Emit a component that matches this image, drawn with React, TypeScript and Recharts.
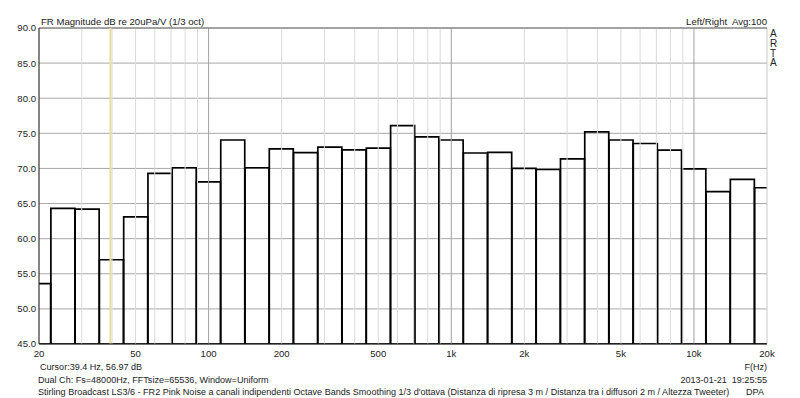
import React from 'react';
import { BarChart, Bar, XAxis, YAxis, CartesianGrid, ReferenceLine } from 'recharts';

// 1/3-octave band centre frequencies (Hz, exact base-10 centres) and labels
const bandLabels = ['20','25','31.5','40','50','63','80','100','125','160','200','250','315','400','500','630','800','1k','1.25k','1.6k','2k','2.5k','3.15k','4k','5k','6.3k','8k','10k','12.5k','16k','20k'];
const bandCenterHz = [19.953, 25.119, 31.623, 39.811, 50.119, 63.096, 79.433, 100, 125.89, 158.49, 199.53, 251.19, 316.23, 398.11, 501.19, 630.96, 794.33, 1000, 1258.9, 1584.9, 1995.3, 2511.9, 3162.3, 3981.1, 5011.9, 6309.6, 7943.3, 10000, 12589, 15849, 19953];
// Magnitude per band (dB)
const levelsDb = [53.6, 64.3, 64.2, 57.0, 63.1, 69.3, 70.1, 68.1, 74.05, 70.1, 72.8, 72.25, 73.05, 72.65, 72.9, 76.1, 74.5, 74.05, 72.2, 72.3, 70.0, 69.85, 71.35, 75.2, 74.05, 73.55, 72.6, 69.95, 66.7, 68.45, 67.25];

const xTicks = [20, 50, 100, 200, 500, 1000, 2000, 5000, 10000, 20000];
const minorGridHz = [30, 40, 50, 60, 70, 80, 90, 200, 300, 400, 500, 600, 700, 800, 900, 2000, 3000, 4000, 5000, 6000, 7000, 8000, 9000];
const majorGridHz = [100, 1000, 10000];
const yTicks = [45, 50, 55, 60, 65, 70, 75, 80, 85, 90];
const cursorHz = 39.4;

const data = bandCenterHz.map((f, i) => ({ f, band: bandLabels[i], db: levelsDb[i] }));

const FONT = '"Liberation Sans", Arial, sans-serif';
const fmtHz = (v: number) => (v >= 1000 ? `${v / 1000}k` : `${v}`);

export default function App() {
  const txt = { fontFamily: FONT, fontSize: 9.6, fill: '#222' } as const;
  const small = { fontFamily: FONT, fontSize: 9.05, fill: '#222' } as const;
  return (
    <div style={{ position: 'absolute', left: 0, top: 0, width: 800, height: 398, background: '#fff' }}>
      <BarChart
        width={800}
        height={398}
        data={data}
        margin={{ top: 28, right: 33, bottom: 34, left: 0 }}
        barCategoryGap={0}
        barGap={0}
      >
        <CartesianGrid vertical={false} stroke="#a8a8a8" strokeWidth={1} />
        {minorGridHz.map((hz) => (
          <ReferenceLine key={`m${hz}`} x={hz} stroke="#dadada" strokeWidth={1} />
        ))}
        {majorGridHz.map((hz) => (
          <ReferenceLine key={`M${hz}`} x={hz} stroke="#a0a0a0" strokeWidth={1} />
        ))}
        <ReferenceLine x={20000} stroke="#c8c8c8" strokeWidth={1} />
        <ReferenceLine y={90} stroke="#707070" strokeWidth={1} />
        <ReferenceLine x={cursorHz} stroke="#e6df9c" strokeWidth={2} />
        <XAxis
          dataKey="f"
          type="number"
          scale="log"
          domain={[20, 20000]}
          allowDataOverflow
          ticks={xTicks}
          interval={0}
          tickFormatter={fmtHz}
          tickLine={false}
          tickSize={4}
          tickMargin={2}
          height={20}
          axisLine={{ stroke: '#111', strokeWidth: 1.2 }}
          tick={{ fontFamily: FONT, fontSize: 9.6, fill: '#222' }}
        />
        <YAxis
          type="number"
          domain={[45, 90]}
          ticks={yTicks}
          interval={0}
          allowDataOverflow
          width={39}
          tickFormatter={(v: number) => v.toFixed(1)}
          tickLine={false}
          tickSize={1}
          tickMargin={2}
          axisLine={{ stroke: '#333', strokeWidth: 1.2 }}
          tick={{ fontFamily: FONT, fontSize: 9.6, fill: '#222' }}
        />
        <Bar dataKey="db" fill="none" stroke="#000" strokeWidth={1.7} isAnimationActive={false} />
      </BarChart>
      <svg width={800} height={398} style={{ position: 'absolute', left: 0, top: 0, pointerEvents: 'none' }}>
        <text x={41} y={24.5} {...txt}>FR Magnitude dB re 20uPa/V (1/3 oct)</text>
        <text x={767} y={24.5} textAnchor="end" {...txt} xmlSpace="preserve" style={{ whiteSpace: 'pre' }}>Left/Right  Avg:100</text>
        <text x={770} y={37} {...txt} fontSize={10}>A</text>
        <text x={770} y={46.8} {...txt} fontSize={10}>R</text>
        <text x={770} y={56.6} {...txt} fontSize={10}>T</text>
        <text x={770} y={66.4} {...txt} fontSize={10}>A</text>
        <text x={40} y={369.5} {...small}>Cursor:39.4 Hz, 56.97 dB</text>
        <text x={767} y={369.5} textAnchor="end" {...small}>F(Hz)</text>
        <text x={38} y={383} {...small}>Dual Ch: Fs=48000Hz, FFTsize=65536, Window=Uniform</text>
        <text x={767} y={383} textAnchor="end" {...small} xmlSpace="preserve" style={{ whiteSpace: 'pre' }}>2013-01-21  19:25:55</text>
        <text x={38} y={394.5} {...small}>Stirling Broadcast LS3/6 - FR2 Pink Noise a canali indipendenti Octave Bands Smoothing 1/3 d'ottava (Distanza di ripresa 3 m / Distanza tra i diffusori 2 m / Altezza Tweeter)</text>
        <text x={746} y={394.5} {...small}>DPA</text>
      </svg>
    </div>
  );
}
